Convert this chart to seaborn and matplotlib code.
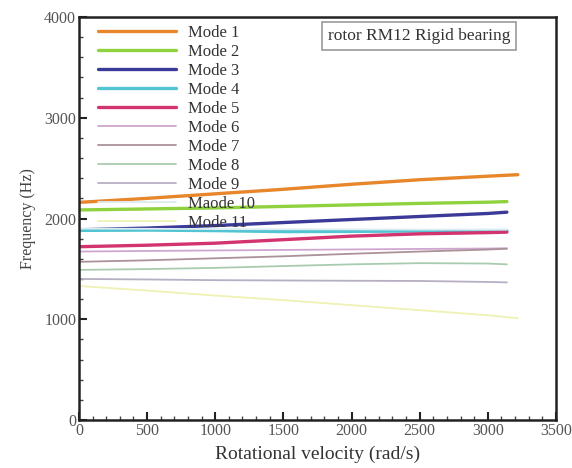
import matplotlib
matplotlib.use("Agg")
import matplotlib.pyplot as plt
import seaborn as sns
import pandas as pd
from matplotlib.ticker import MultipleLocator

sns.set_theme(style="white")
plt.rcParams['font.family'] = ['Liberation Serif', 'DejaVu Serif']

modes = ["Mode 1", "Mode 2", "Mode 3", "Mode 4", "Mode 5", "Mode 6",
         "Mode 7", "Mode 8", "Mode 9", "Maode 10", "Mode 11"]

x_long = [0, 500, 1000, 1500, 2000, 2500, 3000, 3220]
x_std = [0, 500, 1000, 1500, 2000, 2500, 3000, 3140]

mode1 = [2160, 2200, 2245, 2290, 2340, 2385, 2420, 2435]
mode2 = [2085, 2095, 2105, 2120, 2135, 2150, 2162, 2168]
mode3 = [1888, 1905, 1930, 1960, 1990, 2020, 2050, 2063]
mode4 = [1882, 1885, 1880, 1870, 1872, 1876, 1880, 1880]
mode5 = [1720, 1735, 1755, 1790, 1825, 1848, 1860, 1865]
mode6 = [1672, 1678, 1683, 1688, 1693, 1698, 1702, 1705]
mode7 = [1570, 1585, 1605, 1625, 1650, 1672, 1692, 1700]
mode8 = [1490, 1498, 1510, 1528, 1545, 1557, 1553, 1545]
mode9 = [1400, 1395, 1388, 1385, 1382, 1380, 1370, 1366]
mode10 = [1900, 1898, 1895, 1893, 1892, 1890, 1890, 1890]
mode11 = [1330, 1285, 1235, 1190, 1140, 1090, 1040, 1010]

series = [mode1, mode2, mode3, mode4, mode5, mode6, mode7, mode8, mode9, mode10, mode11]
xs = [x_long, x_std, x_std, x_std, x_std, x_std, x_std, x_std, x_std, x_std, x_long]

colors = ["#e8862c", "#8fd13e", "#3b3a98", "#52c4d2", "#d3336f", "#cfa6cf",
          "#ab9198", "#a9cbb0", "#b6aec4", "#dcecf2", "#eef2b4"]
widths = [2.4, 2.4, 2.4, 2.4, 2.4, 1.3, 1.3, 1.3, 1.3, 1.3, 1.3]

rows = []
for m, xv, yv in zip(modes, xs, series):
    for a, b in zip(xv, yv):
        rows.append({"mode": m, "x": a, "y": b})
df = pd.DataFrame(rows)

fig = plt.figure(figsize=(5.72, 4.68), dpi=100)
ax = fig.add_axes([0.138, 0.1026, 0.834, 0.861])

handles = []
for m, c, w in zip(modes, colors, widths):
    sub = df[df["mode"] == m]
    sns.lineplot(data=sub, x="x", y="y", color=c, linewidth=w, ax=ax, label=m,
                 legend=False)
    handles.append(ax.lines[-1])

ax.set_xlim(0, 3500)
ax.set_ylim(0, 4000)
ax.xaxis.set_major_locator(MultipleLocator(500))
ax.xaxis.set_minor_locator(MultipleLocator(100))
ax.yaxis.set_major_locator(MultipleLocator(1000))
ax.yaxis.set_minor_locator(MultipleLocator(200))
ax.tick_params(which="major", direction="in", length=6, width=1.5, color="#222222",
               labelsize=11.5, labelcolor="#555555", bottom=True, left=True, pad=2)
ax.tick_params(which="minor", direction="in", length=3, width=1, color="#444444",
               bottom=True, left=True)
for s in ax.spines.values():
    s.set_linewidth(1.8)
    s.set_color("#222222")

ax.set_xlabel("Rotational velocity (rad/s)", fontsize=14, color="#333333", labelpad=5)
ax.set_ylabel("Frequency (Hz)", fontsize=11.5, color="#444444", labelpad=6)

leg = ax.legend(handles=handles, labels=modes, loc="upper left",
                bbox_to_anchor=(0.025, 0.997), frameon=False, fontsize=12,
                handlelength=4.7, handletextpad=0.7, labelspacing=0.18,
                borderaxespad=0.0)
for t in leg.get_texts():
    t.set_color("#333333")

ax.text(0.713, 0.952, "rotor RM12 Rigid bearing", transform=ax.transAxes,
        ha="center", va="center", fontsize=12.5, color="#333333",
        bbox=dict(boxstyle="square,pad=0.35", fc="white", ec="#999999", lw=1.2))

fig.savefig("out.png", dpi=100)
